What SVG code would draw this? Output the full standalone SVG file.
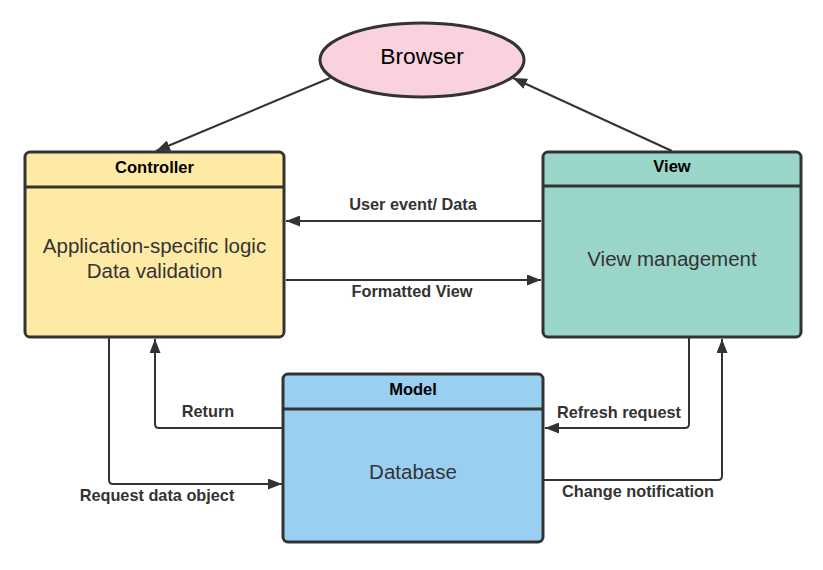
<svg xmlns="http://www.w3.org/2000/svg" width="823" height="570" viewBox="0 0 823 570">
<style>
.box{stroke:#333;stroke-width:3}
.sep{stroke:#333;stroke-width:3}
.title{font-family:"Liberation Sans",Arial,sans-serif;font-weight:bold;font-size:16.5px;fill:#000;text-anchor:middle}
.body{font-family:"Liberation Sans",Arial,sans-serif;font-size:20.5px;fill:#333;text-anchor:middle}
.lbl{font-family:"Liberation Sans",Arial,sans-serif;font-weight:bold;font-size:16.3px;fill:#333;text-anchor:middle}
.conn{fill:none;stroke:#333;stroke-width:2}
</style>
<defs>
<marker id="arr" markerUnits="userSpaceOnUse" markerWidth="15" markerHeight="11" refX="14" refY="5.5" orient="auto">
<path d="M0,0 L14,5.5 L0,11 z" fill="#333"/>
</marker>
</defs>
<rect width="823" height="570" fill="#fff"/>
<g id="connectors">
<path class="conn" d="M330,78 L156,151" marker-end="url(#arr)"/>
<path class="conn" d="M672,151 L513,78" marker-end="url(#arr)"/>
<path class="conn" d="M541,221 L286,221" marker-end="url(#arr)"/>
<path class="conn" d="M286,280 L541,280" marker-end="url(#arr)"/>
<path class="conn" d="M282,428 L159,428 Q155,428 155,424 L155,339" marker-end="url(#arr)"/>
<path class="conn" d="M109,338 L109,480 Q109,484 113,484 L282,484" marker-end="url(#arr)"/>
<path class="conn" d="M689,338 L689,424 Q689,428 685,428 L545,428" marker-end="url(#arr)"/>
<path class="conn" d="M544,480 L718,480 Q722,480 722,476 L722,339" marker-end="url(#arr)"/>
<text class="lbl" x="413" y="210">User event/ Data</text>
<text class="lbl" x="412" y="297">Formatted View</text>
<text class="lbl" x="208" y="417">Return</text>
<text class="lbl" x="157" y="501">Request data object</text>
<text class="lbl" x="619" y="418">Refresh request</text>
<text class="lbl" x="638" y="497">Change notification</text>
</g>
<g id="browser">
<ellipse cx="422" cy="60" rx="102" ry="37" fill="#f9d2dd" stroke="#333" stroke-width="3"/>
<text x="422" y="64" font-family="Liberation Sans, Arial, sans-serif" font-size="22.8" fill="#000" text-anchor="middle">Browser</text>
</g>
<g id="controller">
<rect class="box" x="25" y="152" width="259" height="185" rx="5" fill="#ffeaa5"/>
<line class="sep" x1="25" y1="187" x2="284" y2="187"/>
<text class="title" x="154.5" y="173">Controller</text>
<text class="body" x="154.5" y="253">Application-specific logic</text>
<text class="body" x="154.5" y="278">Data validation</text>
</g>
<g id="view">
<rect class="box" x="543" y="152" width="258" height="185" rx="5" fill="#9ad5c9"/>
<line class="sep" x1="543" y1="186" x2="801" y2="186"/>
<text class="title" x="672" y="172">View</text>
<text class="body" x="672" y="266">View management</text>
</g>
<g id="model">
<rect class="box" x="283" y="374" width="260" height="168" rx="5" fill="#99d0f2"/>
<line class="sep" x1="283" y1="409" x2="543" y2="409"/>
<text class="title" x="413" y="395">Model</text>
<text class="body" x="413" y="479">Database</text>
</g>
</svg>
